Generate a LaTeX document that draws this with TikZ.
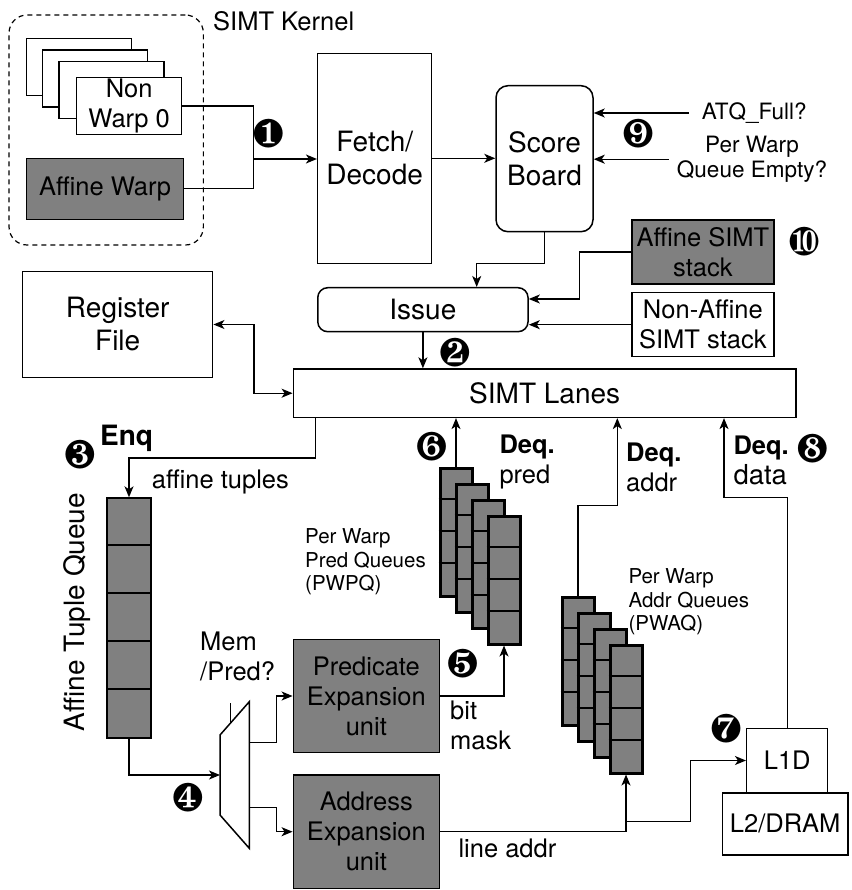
\documentclass[tikz,border=0pt]{standalone}
\usepackage{fontspec}
\setmainfont{TeX Gyre Heros}
\usepackage{pifont}
\usetikzlibrary{arrows.meta,calc}

\definecolor{unitgray}{RGB}{128,128,128}

\newcommand*{\fsbox}{\fontsize{28}{33}\selectfont}
\newcommand*{\fslab}{\fontsize{25.5}{30}\selectfont}
\newcommand*{\fssig}{\fontsize{22.5}{25}\selectfont}
\newcommand*{\fsq}{\fontsize{20.5}{23.5}\selectfont}

\begin{document}
\begin{tikzpicture}
[
	x=1pt,
	y=-1pt,
	>={Stealth[length=11pt,width=9pt,inset=3pt]},
	every node/.style={inner sep=0pt},
	conn/.style={line width=1.3pt},
	blk/.style={draw,line width=1.5pt,fill=white,align=center,font=\fsbox},
	rblk/.style={blk,rounded corners=12pt},
	unit/.style={draw,line width=1.5pt,fill=unitgray,align=center,font=\fslab},
	warpbox/.style={draw,line width=1.5pt,fill=white,minimum width=105pt,minimum height=57pt,align=center,font=\fslab},
	kernbox/.style={draw,line width=1.2pt,dash pattern=on 5pt off 4pt,rounded corners=18pt},
	qstack/.style={draw,line width=3pt,fill=unitgray,minimum width=32pt,minimum height=128pt},
	qcell/.style={line width=2pt},
	badge/.style={font=\fontsize{40}{40}\selectfont},
	lbl/.style={align=left,font=\fslab,anchor=west}
]

	\useasboundingbox (0,0) rectangle (851,890);

	% SIMT kernel with its warps
	\node[kernbox,minimum width=194.3pt,minimum height=230pt] (kernel) at (106.2,130) {};
	\node[lbl] (kernlbl) at (213,21) {SIMT Kernel};
	\foreach \i/\x/\y in {3/79.2/67, 2/95.2/78.3, 1/111.5/90} {
		\node[warpbox] (w\i) at (\x,\y) {};
	}
	\node[warpbox] (w0) at (129.2,106) {Non\\Warp 0};
	\node[unit,minimum width=156.6pt,minimum height=61pt] (affwarp) at (105,188.8) {Affine Warp};

	% front end
	\node[blk,minimum width=114pt,minimum height=210pt] (fetch) at (374.7,158.3) {Fetch/\\Decode};
	\node[rblk,minimum width=97pt,minimum height=146pt] (score) at (544.5,158.7) {Score\\Board};
	\coordinate (j1) at (253.3,159);
	\draw[conn] (w0.east) -| (j1) |- (affwarp.east);
	\draw[conn,->] (j1) -- (j1 -| fetch.west);
	\draw[conn,->] (fetch.east) -- (fetch.east -| score.west);

	% scoreboard inputs
	\node[anchor=west,font=\fssig] (atqfull) at (701.7,113) {ATQ\_Full?};
	\draw[conn,->] ([xshift=-13pt]atqfull.west) -- (atqfull.west -| score.east);
	\node[align=center,font=\fssig] (pwempty) at (752,159.2) {Per Warp\\Queue Empty?};
	\draw[conn,->] ([xshift=-8pt]pwempty.west) -- (pwempty.west -| score.east);

	% issue and SIMT stacks
	\node[rblk,minimum width=210.3pt,minimum height=44pt,rounded corners=10pt] (issue) at (422.9,309.7) {Issue};
	\draw[conn,->] (score.south) -- ++(0,31) -| ([xshift=53.8pt]issue.north);
	\node[unit,minimum width=142.3pt,minimum height=64pt] (affstack) at (702.9,252) {Affine SIMT\\stack};
	\node[blk,font=\fslab,minimum width=142.3pt,minimum height=64pt] (nonstack) at (702.9,324.7) {Non-Affine\\SIMT stack};
	\draw[conn,->] (affstack.west) -- ++(-51.7,0) |- ([yshift=10.7pt]issue.east);
	\draw[conn,->] (nonstack.west) -- (nonstack.west -| issue.east);

	% register file and lanes
	\node[blk,minimum width=190pt,minimum height=105.6pt] (regfile) at (117.7,324.5) {Register\\File};
	\node[blk,minimum width=502.7pt,minimum height=48.3pt] (lanes) at (544.7,393.2) {SIMT Lanes};
	\draw[conn,->] (issue.south) -- (issue.south |- lanes.north);
	\draw[conn,<->] (regfile.east) -- ++(40.6,0) |- (lanes.west);

	% affine tuple queue
	\node[draw,line width=2pt,fill=unitgray,minimum width=43.4pt,minimum height=240pt] (atq) at (129,618.3) {};
	\foreach \k in {1,...,4}
		\draw[qcell] ([yshift=-\k*48pt]atq.north west) -- ([yshift=-\k*48pt]atq.north east);
	\node[rotate=90,font=\fsbox] (atqlbl) at (77,612) {Affine Tuple Queue};
	\draw[conn,->] ([xshift=22.7pt]lanes.south west) -- ++(0,40) -| (atq.north);
	\node[anchor=west,font=\fsbox\bfseries] (enq) at (100,438.3) {Enq};
	\node[lbl] (tuples) at (151.7,481.7) {affine tuples};

	% pred queues
	\foreach \i in {1,...,4} {
		\node[qstack] (pq\i) at ({456+16*(\i-1)},{532+16*(\i-1)}) {};
		\foreach \k in {1,2,3}
			\draw[qcell] ([yshift=-\k*32pt]pq\i.north west) -- ([yshift=-\k*32pt]pq\i.north east);
	}
	\draw[conn,->] (pq1.north) -- (pq1.north |- lanes.south);
	\node[lbl,font=\fsq] (pwpqlbl) at (305,561.7) {Per Warp\\Pred Queues\\(PWPQ)};
	\node[lbl] (deqpred) at (499.3,462) {\textbf{Deq.}\\pred};

	% addr queues
	\foreach \i in {1,...,4} {
		\node[qstack] (aq\i) at ({578+16*(\i-1)},{661+16*(\i-1)}) {};
		\foreach \k in {1,2,3}
			\draw[qcell] ([yshift=-\k*32pt]aq\i.north west) -- ([yshift=-\k*32pt]aq\i.north east);
	}
	\node[lbl,font=\fsq] (pwaqlbl) at (628.3,602) {Per Warp\\Addr Queues\\(PWAQ)};
	\draw[conn,->] (aq1.north) -- ++(0,-90) -| ([xshift=72.6pt]lanes.south);
	\node[lbl] (deqaddr) at (626,467.5) {\textbf{Deq.}\\addr};

	% expansion units
	\node[unit,minimum width=146pt,minimum height=113.4pt] (predexp) at (366.3,696) {Predicate\\Expansion\\unit};
	\node[unit,minimum width=146pt,minimum height=113.4pt] (addrexp) at (366.3,831.7) {Address\\Expansion\\unit};
	\draw[conn,->] (predexp.east) -| (pq4.south);
	\node[lbl] (bitmask) at (450,725) {bit\\mask};
	\draw[conn,->] (addrexp.east) -| (aq4.south);
	\node[lbl] (lineaddr) at (458.3,848.3) {line addr};

	% mux
	\draw[line width=1.5pt,fill=white] (220,735) -- (249.3,701.7) -- (249.3,848.3) -- (220,815) -- cycle;
	\draw[line width=1.5pt] (230.7,703) -- (230.7,722.8);
	\coordinate (muxin) at (220,775);
	\coordinate (muxa) at (249.3,742.7);
	\coordinate (muxb) at (249.3,807.3);
	\draw[conn,->] (atq.south) |- (muxin);
	\draw[conn,->] (muxa) -- ++(27.4,0) |- (predexp.west);
	\draw[conn,->] (muxb) -- ++(27.4,0) |- (addrexp.west);
	\node[lbl] (mempred) at (200,656) {Mem\\/Pred?};

	% caches
	\node[blk,font=\fslab,minimum width=125.7pt,minimum height=62.3pt] (l2) at (785.2,823.9) {L2/DRAM};
	\node[blk,font=\fslab,minimum width=81pt,minimum height=64.4pt] (l1d) at (787.2,760.5) {L1D};
	\coordinate (split) at ($(addrexp.east -| aq4.south)+(0,-10)$);
	\draw[conn,->] (split) -- ++(64.3,0) |- (l1d.west);
	\draw[conn,->] (l1d.north) -- ++(0,-230) -| ([xshift=179.3pt]lanes.south);
	\node[lbl] (deqdata) at (733.3,460.8) {\textbf{Deq.}\\\fontsize{27.5}{31}\selectfont data};

	% step badges
	\foreach \n/\g/\x/\y in {b1/182/268.3/133.3, b2/183/455/353, b3/184/80/455, b4/185/188/798,
		b5/186/462.7/663.3, b6/187/431.7/446.7, b7/188/726/728.3, b8/189/812.3/448.3,
		b9/190/638/133.3, b10/191/804/241.7} {
		\node[badge] (\n) at (\x,\y) {\ding{\g}};
	}

\end{tikzpicture}
\end{document}
